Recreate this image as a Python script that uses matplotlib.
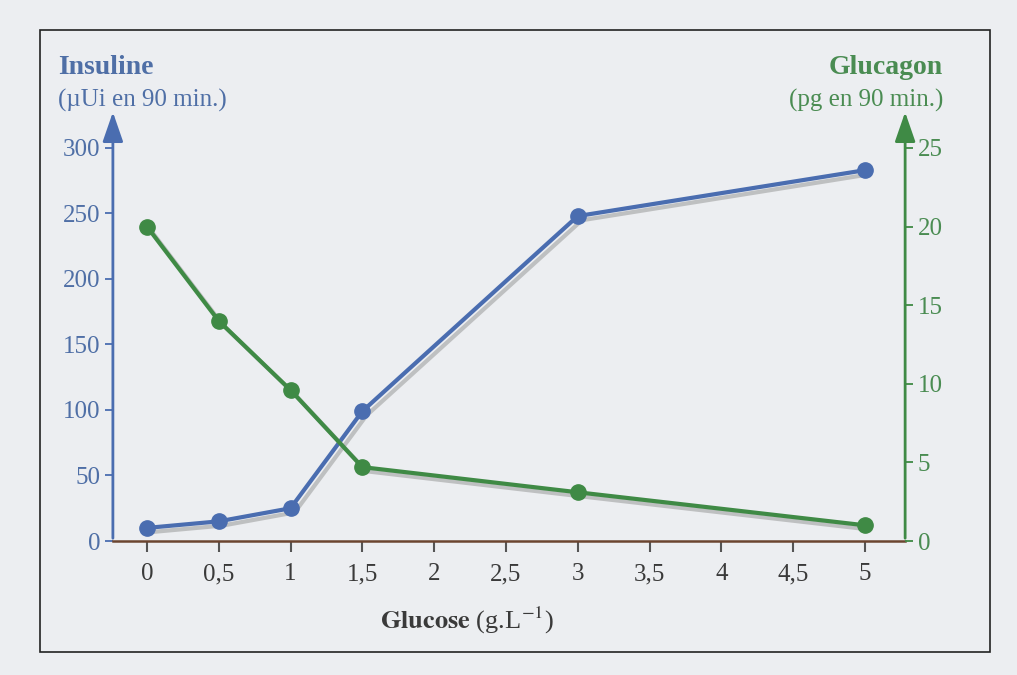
import matplotlib.pyplot as plt
import matplotlib.patheffects as pe
from matplotlib.patches import Rectangle

# Données
glucose = [0, 0.5, 1, 1.5, 3, 5]
insuline = [10, 15, 25, 99, 248, 283]
glucagon = [20, 14.0, 9.6, 4.7, 3.1, 1.0]

x_ticks = [0, 0.5, 1, 1.5, 2, 2.5, 3, 3.5, 4, 4.5, 5]
x_labels = ["0", "0,5", "1", "1,5", "2", "2,5", "3", "3,5", "4", "4,5", "5"]
ins_ticks = [0, 50, 100, 150, 200, 250, 300]
glu_ticks = [0, 5, 10, 15, 20, 25]

bleu = "#4a6db0"
vert = "#3f8a45"
bleu_txt = "#4f6fa6"
vert_txt = "#4a8c52"
gris_txt = "#3a3a3a"
fond = "#eceef1"

plt.rcParams['font.family'] = ['Liberation Serif', 'DejaVu Serif']

fig = plt.figure(figsize=(10.17, 6.75), dpi=100, facecolor=fond)
ax = fig.add_axes([0.111, 0.1985, 0.779, 0.627])
ax.set_facecolor("none")
ax2 = ax.twinx()

# Cadre autour de la figure
fig.patches.append(Rectangle((40 / 1017, 1 - 652 / 675), 950 / 1017, 622 / 675,
                             transform=fig.transFigure, fill=False,
                             edgecolor="#222222", linewidth=1.2))

ombre = [pe.SimpleLineShadow(offset=(3, -3), shadow_color="#888888", alpha=0.45),
         pe.Normal()]

# lignes avec ombre, puis les points par-dessus
ax.plot(glucose, insuline, color=bleu, lw=3, path_effects=ombre,
        clip_on=False, zorder=3)
ax.plot(glucose, insuline, ls="none", marker="o", ms=11, color=bleu,
        clip_on=False, zorder=4)
ax2.plot(glucose, glucagon, color=vert, lw=3, path_effects=ombre,
         clip_on=False, zorder=3)
ax2.plot(glucose, glucagon, ls="none", marker="o", ms=11, color=vert,
         clip_on=False, zorder=4)

ax.set_xlim(-0.237, 5.28)
ax.set_ylim(0, 323)
ax2.set_ylim(0, 323 / 300 * 25)

for a in (ax, ax2):
    for s in ("top", "left", "right"):
        a.spines[s].set_visible(False)
ax2.spines["bottom"].set_visible(False)
ax.spines["bottom"].set_color("#6b4530")
ax.spines["bottom"].set_linewidth(1.8)

# Axes verticaux avec flèches
ax.annotate("", xy=(0, 1.02), xytext=(0, 0), xycoords="axes fraction",
            arrowprops=dict(arrowstyle="-|>,head_length=1.3,head_width=0.45",
                            color=bleu, lw=2, mutation_scale=14))
ax2.annotate("", xy=(1, 1.02), xytext=(1, 0), xycoords="axes fraction",
             arrowprops=dict(arrowstyle="-|>,head_length=1.3,head_width=0.45",
                             color=vert, lw=2, mutation_scale=14))

ax.set_xticks(x_ticks)
ax.set_xticklabels(x_labels)
ax.tick_params(axis="x", direction="out", length=8, width=1.5, color="#555555",
               labelsize=18, labelcolor=gris_txt, pad=8)
ax.set_yticks(ins_ticks)
ax.tick_params(axis="y", direction="out", length=6, width=1.3, color=bleu,
               labelsize=18, labelcolor=bleu_txt, pad=3)
ax2.set_yticks(glu_ticks)
ax2.tick_params(axis="y", direction="out", length=6, width=1.3, color=vert,
                labelsize=18, labelcolor=vert_txt, pad=3)

# Titres des axes
fig.text(58 / 1017, 1 - 68 / 675, "Insuline", color=bleu_txt, fontsize=20,
         fontweight="bold", va="center", ha="left")
fig.text(58 / 1017, 1 - 100 / 675, "(µUi en 90 min.)", color=bleu_txt,
         fontsize=18, va="center", ha="left")
fig.text(943 / 1017, 1 - 68 / 675, "Glucagon", color=vert_txt, fontsize=20,
         fontweight="bold", va="center", ha="right")
fig.text(943 / 1017, 1 - 100 / 675, "(pg en 90 min.)", color=vert_txt,
         fontsize=18, va="center", ha="right")
fig.text(467 / 1017, 1 - 620 / 675,
         r"$\mathbf{Glucose}$ (g.L$^{-1}$)", color=gris_txt, fontsize=19,
         va="center", ha="center", math_fontfamily="stix")

fig.savefig("out.png", dpi=100, facecolor=fond)
